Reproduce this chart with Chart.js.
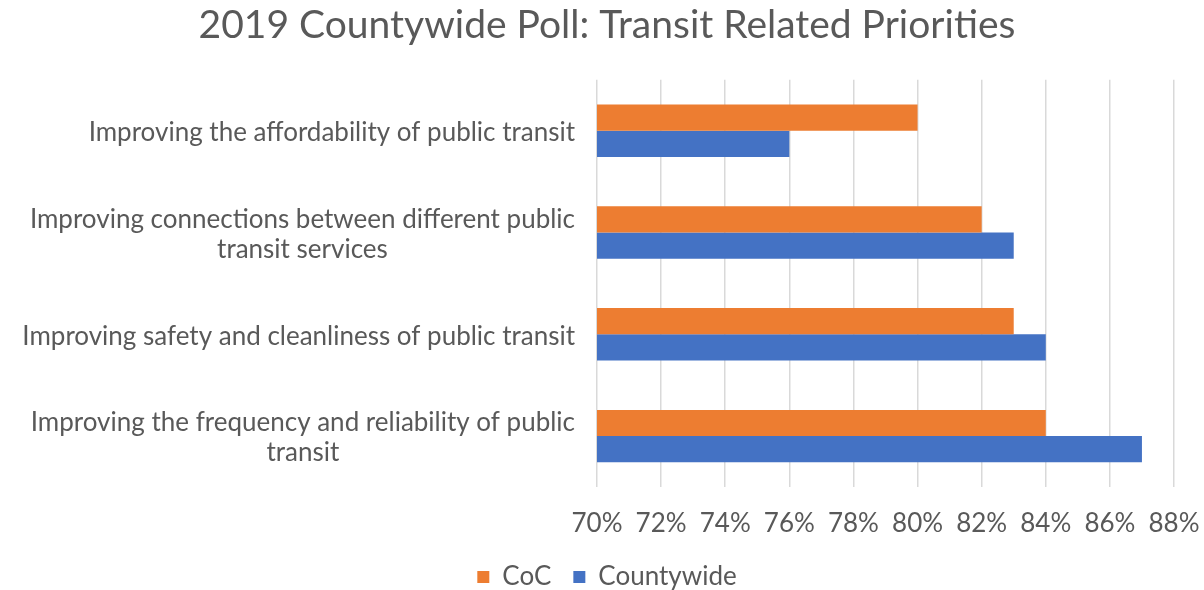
<!DOCTYPE html>
<html>
<head>
<meta charset="utf-8">
<script src="https://cdn.jsdelivr.net/npm/chart.js@4"></script>
<style>
  html, body { margin: 0; padding: 0; background: #ffffff; }
  #wrap { width: 1204px; height: 590px; position: relative; }
</style>
</head>
<body>
<div id="wrap"><canvas id="c" width="1204" height="590"></canvas></div>
<script>
const titleText = "2019 Countywide Poll: Transit Related Priorities";
const categories = [
  ["Improving the affordability of public transit"],
  ["Improving connections between different public", "transit services"],
  ["Improving safety and cleanliness of public transit"],
  ["Improving the frequency and reliability of public", "transit"]
];
const seriesNames = ["CoC", "Countywide"];
const cocValues = [80, 82, 83, 84];
const countywideValues = [76, 83, 84, 87];
const xMin = 70, xMax = 88, xStep = 2;

const FONT = "Lato, 'Open Sans', sans-serif";
const TEXT = "#595959";

const yLabelPlugin = {
  id: 'yLabels',
  afterDraw(chart) {
    const ctx = chart.ctx;
    const ys = chart.scales.y;
    const rightEdge = chart.chartArea.left - 22;
    ctx.save();
    ctx.font = "26px " + FONT;
    ctx.fillStyle = TEXT;
    ctx.textAlign = 'center';
    ctx.textBaseline = 'middle';
    const lh = 30;
    categories.forEach((lines, i) => {
      const cy = ys.getPixelForTick(i) + 2;
      let w = 0;
      lines.forEach(l => { w = Math.max(w, ctx.measureText(l).width); });
      const cx = rightEdge - w / 2;
      const y0 = cy - (lines.length - 1) * lh / 2;
      lines.forEach((l, k) => ctx.fillText(l, cx, y0 + k * lh));
    });
    ctx.restore();
  }
};

new Chart(document.getElementById('c'), {
  type: 'bar',
  data: {
    labels: categories.map(c => c.join(' ')),
    datasets: [
      { label: seriesNames[0], data: cocValues, backgroundColor: '#ED7D31', borderWidth: 0,
        barPercentage: 1, categoryPercentage: 0.515 },
      { label: seriesNames[1], data: countywideValues, backgroundColor: '#4472C4', borderWidth: 0,
        barPercentage: 1, categoryPercentage: 0.515 }
    ]
  },
  options: {
    indexAxis: 'y',
    responsive: false,
    animation: false,
    layout: { padding: { left: 10, right: 0, top: 0, bottom: -10 } },
    plugins: {
      title: {
        display: true, text: titleText, color: TEXT,
        font: { family: FONT, size: 39, weight: 'normal' },
        padding: { top: 2, bottom: 31 }
      },
      legend: {
        position: 'bottom',
        labels: {
          color: TEXT, boxWidth: 12, boxHeight: 12, padding: 22,
          font: { family: FONT, size: 26 }
        }
      },
      tooltip: { enabled: false }
    },
    scales: {
      x: {
        min: xMin, max: xMax,
        ticks: { stepSize: xStep, color: TEXT, padding: 21,
          font: { family: FONT, size: 26 },
          callback: v => v + '%' },
        grid: { color: '#d9d9d9', lineWidth: 1.5, drawTicks: false },
        border: { display: false },
        afterFit(scale) { scale.height = 55; scale.paddingRight = 30; scale.paddingLeft = 0; }
      },
      y: {
        ticks: { display: false },
        grid: { display: false },
        border: { display: false },
        afterFit(scale) { scale.width = 587; }
      }
    }
  },
  plugins: [yLabelPlugin]
});
</script>
</body>
</html>
